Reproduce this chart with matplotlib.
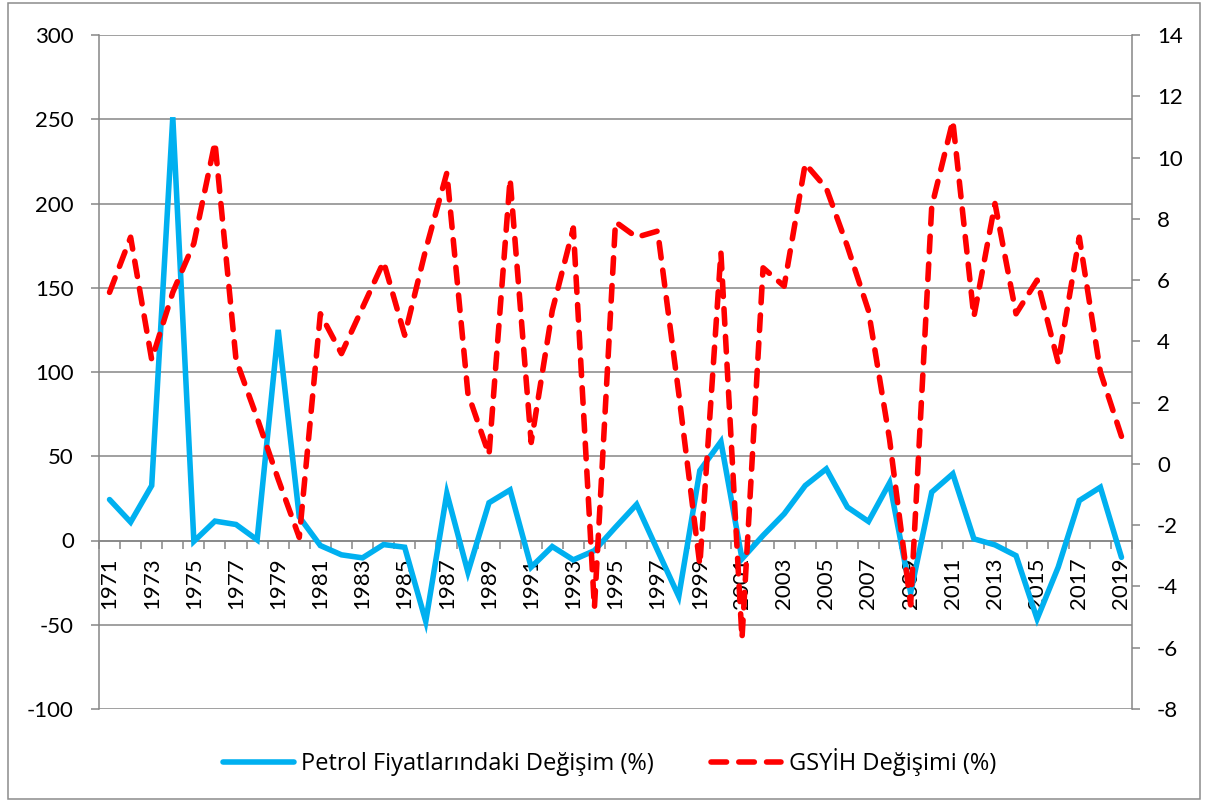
import numpy as np
import matplotlib
matplotlib.use("Agg")
import matplotlib.pyplot as plt
from matplotlib.patches import Rectangle

plt.rcParams['font.family'] = ['Lato', 'DejaVu Sans']
plt.rcParams['axes.unicode_minus'] = False

# Yıllar ve seriler
years = list(range(1971, 2020))

# Petrol fiyatlarındaki değişim (%), sol eksen
oil_change = [24.3, 10.9, 32.6, 251.2, -0.5, 11.5, 9.5, 0.4, 125.0, 14.0,
              -3.0, -8.5, -10.3, -2.4, -4.0, -48.0, 28.0, -18.8, 22.4, 30.0,
              -15.8, -3.6, -11.5, -6.0, 7.9, 21.4, -6.0, -33.2, 41.5, 58.7,
              -10.9, 3.0, 15.8, 32.6, 42.5, 19.8, 11.3, 34.2, -31.0, 28.7,
              39.6, 1.0, -2.6, -9.0, -46.5, -15.8, 23.7, 31.6, -10.0]

# GSYİH değişimi (%), sağ eksen
gdp_change = [5.6, 7.4, 3.4, 5.6, 7.2, 10.5, 3.4, 1.5, -0.5, -2.4,
              4.9, 3.6, 5.1, 6.6, 4.2, 7.0, 9.5, 2.3, 0.3, 9.3,
              0.7, 5.0, 7.7, -4.7, 7.9, 7.4, 7.6, 2.3, -3.3, 6.9,
              -5.7, 6.4, 5.8, 9.8, 9.0, 7.1, 5.0, 0.8, -4.6, 8.4,
              11.2, 4.8, 8.5, 4.9, 6.0, 3.3, 7.4, 3.0, 0.9]

oil_label = "Petrol Fiyatlarındaki Değişim (%)"
gdp_label = "GSYİH Değişimi (%)"

grid_col = '#868686'
fs = 16

fig = plt.figure(figsize=(12.07, 8.01), dpi=100)
ax = fig.add_axes([99 / 1207, 1 - 709 / 801, (1132 - 99) / 1207, (709 - 35) / 801])
ax2 = ax.twinx()

x = np.arange(len(years))

l1, = ax.plot(x, oil_change, color='#00B0F0', lw=4, solid_joinstyle='miter',
              solid_capstyle='round', label=oil_label, zorder=3)
l2, = ax2.plot(x, gdp_change, color='#FF0000', lw=4, linestyle=(0, (2.8, 2.2)),
               dash_capstyle='round', dash_joinstyle='round', label=gdp_label, zorder=3)

ax.set_xlim(-0.5, len(years) - 0.5)
ax.set_ylim(-100, 300)
ax.set_yticks(np.arange(-100, 301, 50))
ax2.set_ylim(-8, 14)
ax2.set_yticks(np.arange(-8, 15, 2))

ax.grid(axis='y', color=grid_col, lw=1.1)
ax.set_axisbelow(True)

# x ekseni 0 seviyesinde
ax.spines['bottom'].set_position(('data', 0))
ax.spines['bottom'].set_color(grid_col)
ax.spines['bottom'].set_linewidth(1.1)
ax.spines['top'].set_visible(False)
ax.spines['right'].set_visible(False)
ax.spines['left'].set_color(grid_col)
ax.spines['left'].set_linewidth(1.1)
for s in ['top', 'left', 'bottom']:
    ax2.spines[s].set_visible(False)
ax2.spines['right'].set_color(grid_col)
ax2.spines['right'].set_linewidth(1.1)

ax.set_xticks(x[::2])
ax.set_xticklabels([str(y) for y in years[::2]], rotation=90, fontsize=fs)
ax.set_xticks(np.arange(-0.5, len(years), 1.0), minor=True)
ax.tick_params(axis='x', which='major', length=0, pad=12)
ax.tick_params(axis='x', which='minor', direction='out', length=6, width=1.1, color=grid_col)
ax.tick_params(axis='y', direction='out', length=6, width=1.1, color=grid_col,
               labelsize=fs, pad=12)
ax2.tick_params(axis='y', direction='out', length=6, width=1.1, color=grid_col,
                labelsize=fs, pad=12)

fig.legend(handles=[l1, l2], loc='center', bbox_to_anchor=(0.505, 1 - 762 / 801),
           ncol=2, frameon=False, handlelength=3.0,
           handletextpad=0.3, columnspacing=2.4,
           prop={'family': ['Open Sans', 'DejaVu Sans'], 'size': 17})

# grafik çerçevesi
fig.patches.append(Rectangle((8 / 1207, 2 / 801), 1192 / 1207, 796 / 801,
                             transform=fig.transFigure, fill=False,
                             edgecolor='#8c8c8c', lw=1.1))

fig.savefig('out.png', dpi=100)
